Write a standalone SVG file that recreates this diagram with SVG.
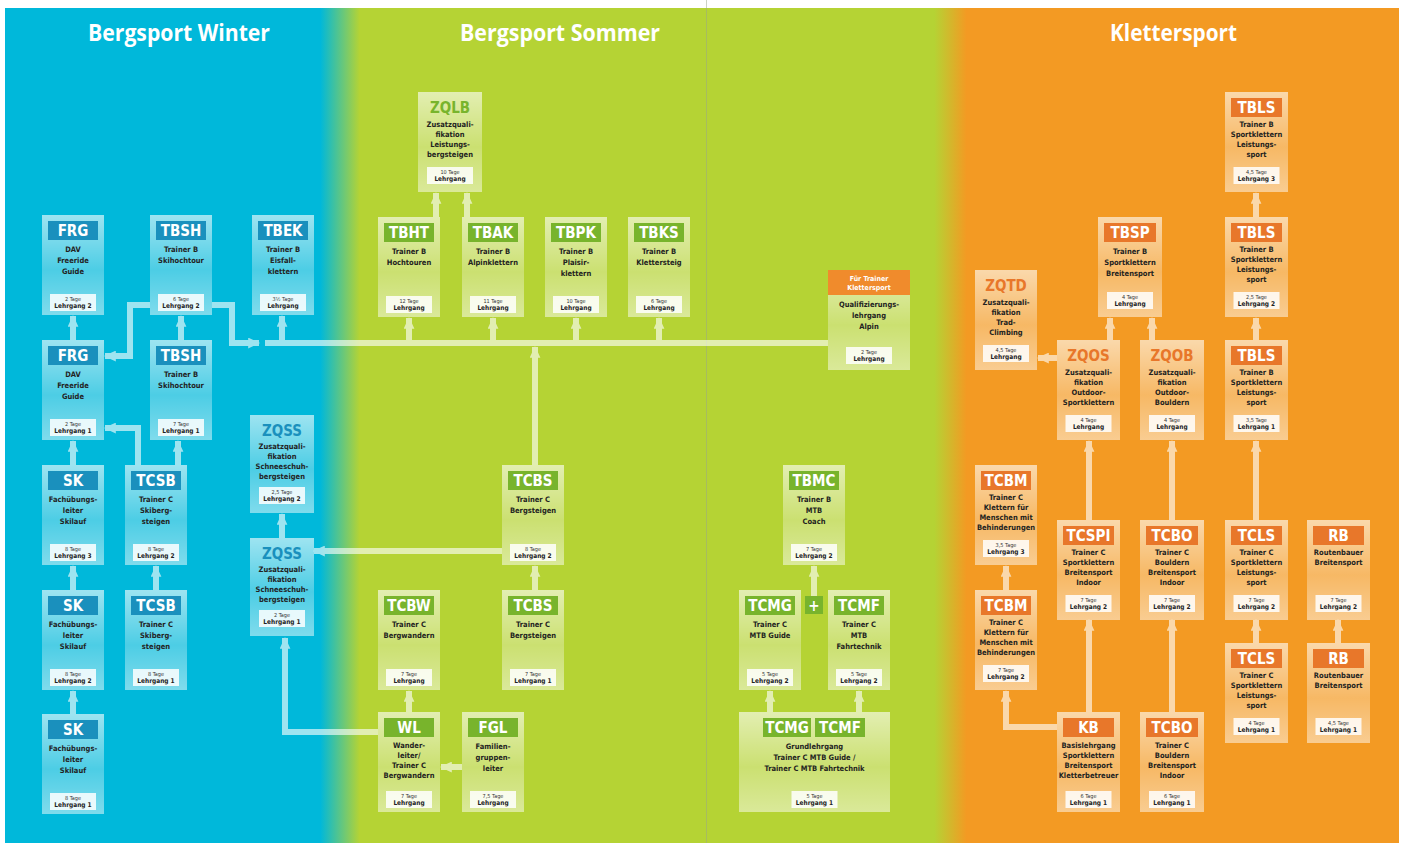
<svg xmlns="http://www.w3.org/2000/svg" width="1405" height="843" viewBox="0 0 1405 843">
<defs>
<linearGradient id="bg" x1="0" y1="0" x2="1405" y2="0" gradientUnits="userSpaceOnUse">
<stop offset="0" stop-color="#00b8da"/>
<stop offset="0.228" stop-color="#00b8da"/>
<stop offset="0.256" stop-color="#b5d334"/>
<stop offset="0.665" stop-color="#b5d334"/>
<stop offset="0.688" stop-color="#f39a23"/>
<stop offset="1" stop-color="#f39a23"/>
</linearGradient>
<linearGradient id="bx" x1="0" y1="0" x2="0" y2="1">
<stop offset="0" stop-color="#fff" stop-opacity="0.62"/>
<stop offset="0.55" stop-color="#fff" stop-opacity="0.3"/>
<stop offset="1" stop-color="#fff" stop-opacity="0.5"/>
</linearGradient>
<marker id="ah" viewBox="0 0 12 10" refX="10" refY="5" markerWidth="13" markerHeight="11" markerUnits="userSpaceOnUse" orient="auto">
<path d="M0,0 L11,5 L0,10 Z" fill="#fff"/>
</marker>
<style>
.box{fill:url(#bx)}
.hb{fill:#1a90bd}.hg{fill:#78b42c}.ho{fill:#e8772a}
.code{font-family:"Liberation Sans Narrow","DejaVu Sans Condensed","Liberation Sans",sans-serif;font-stretch:condensed;font-weight:bold;font-size:15px;fill:#fff;text-anchor:middle}
.zb{fill:#1a90bd}.zg{fill:#78b42c}.zo{fill:#e8772a}
.d{font-family:"Liberation Sans Narrow","DejaVu Sans Condensed","Liberation Sans",sans-serif;font-stretch:condensed;font-weight:bold;font-size:7.5px;fill:#23231f;text-anchor:middle}
.ft{fill:#fff;fill-opacity:0.85}
.t{font-family:"Liberation Sans Narrow","DejaVu Sans Condensed","Liberation Sans",sans-serif;font-stretch:condensed;font-size:5.5px;fill:#333;text-anchor:middle}
.l{font-family:"Liberation Sans Narrow","DejaVu Sans Condensed","Liberation Sans",sans-serif;font-stretch:condensed;font-weight:bold;font-size:6.5px;fill:#222;text-anchor:middle}
.w{font-family:"Liberation Sans Narrow","DejaVu Sans Condensed","Liberation Sans",sans-serif;font-stretch:condensed;font-weight:bold;font-size:7px;fill:#fff;text-anchor:middle}
.title{font-family:"Open Sans","Liberation Sans",sans-serif;font-weight:bold;font-size:24px;fill:#fff;text-anchor:start}
.con path{fill:none;stroke:#fff;stroke-width:6}
.con path.a{marker-end:url(#ah)}
</style>
</defs>

<rect width="1405" height="843" fill="#fff"/>
<rect x="5" y="8" width="1394" height="835" fill="url(#bg)"/>
<line x1="706.5" y1="0" x2="706.5" y2="843" stroke="#9aa58a" stroke-opacity="0.5" stroke-width="1"/>

<text class="title" x="88" y="41" textLength="182" lengthAdjust="spacingAndGlyphs">Bergsport Winter</text>
<text class="title" x="460" y="41" textLength="200" lengthAdjust="spacingAndGlyphs">Bergsport Sommer</text>
<text class="title" x="1110" y="41" textLength="127" lengthAdjust="spacingAndGlyphs">Klettersport</text>

<g class="con" opacity="0.62">
<path class="a" d="M73,340 V316"/>
<path class="a" d="M150,305 H130 V356 H105"/>
<path class="a" d="M212,305 H232 V343 H259"/>
<path d="M265,343 H828"/>
<path class="a" d="M282,343 V316"/>
<path class="a" d="M409,343 V318"/>
<path class="a" d="M493,343 V318"/>
<path class="a" d="M576,343 V318"/>
<path class="a" d="M659,343 V318"/>
<path class="a" d="M535,465 V347"/>
<path class="a" d="M181,340 V316"/>
<path class="a" d="M73,465 V441"/>
<path class="a" d="M138,465 V428 H105"/>
<path class="a" d="M178,465 V441"/>
<path class="a" d="M73,590 V566"/>
<path class="a" d="M73,714 V691"/>
<path class="a" d="M156,590 V566"/>
<path class="a" d="M282,538 V514"/>
<path class="a" d="M502,551 H314"/>
<path class="a" d="M378,732 H285 V638"/>
<path class="a" d="M409,712 V691"/>
<path class="a" d="M462,767 H441"/>
<path class="a" d="M535,590 V566"/>
<path class="a" d="M436,217 V193"/>
<path class="a" d="M467,217 V193"/>
<path class="a" d="M814,597 V566"/>
<path class="a" d="M770,712 V691"/>
<path class="a" d="M859,712 V691"/>
<path class="a" d="M1256,217 V193"/>
<path class="a" d="M1256,340 V318"/>
<path class="a" d="M1256,520 V441"/>
<path class="a" d="M1110,340 V318"/>
<path class="a" d="M1152,340 V318"/>
<path class="a" d="M1057,358 H1038"/>
<path class="a" d="M1089,520 V441"/>
<path class="a" d="M1172,520 V441"/>
<path class="a" d="M1089,712 V620"/>
<path class="a" d="M1172,712 V620"/>
<path class="a" d="M1057,727 H1006 V691"/>
<path class="a" d="M1006,590 V566"/>
<path class="a" d="M1256,643 V620"/>
<path class="a" d="M1338,643 V620"/>
</g>

<!-- Bergsport Winter -->
<g id="frg-2" transform="translate(42,215)">
<rect class="box" width="62" height="100"/><rect class="hb" x="6" y="6" width="50" height="19"/><text class="code" x="31" y="21">FRG</text>
<text class="d" x="31" y="37">DAV</text><text class="d" x="31" y="48">Freeride</text><text class="d" x="31" y="59">Guide</text>
<rect class="ft" x="8" y="79" width="46" height="17"/><text class="t" x="31" y="85.5">2 Tage</text><text class="l" x="31" y="93">Lehrgang 2</text>
</g>
<g id="frg-1" transform="translate(42,340)">
<rect class="box" width="62" height="100"/><rect class="hb" x="6" y="6" width="50" height="19"/><text class="code" x="31" y="21">FRG</text>
<text class="d" x="31" y="37">DAV</text><text class="d" x="31" y="48">Freeride</text><text class="d" x="31" y="59">Guide</text>
<rect class="ft" x="8" y="79" width="46" height="17"/><text class="t" x="31" y="85.5">2 Tage</text><text class="l" x="31" y="93">Lehrgang 1</text>
</g>
<g id="tbsh-2" transform="translate(150,215)">
<rect class="box" width="62" height="100"/><rect class="hb" x="6" y="6" width="50" height="19"/><text class="code" x="31" y="21">TBSH</text>
<text class="d" x="31" y="37">Trainer B</text><text class="d" x="31" y="48">Skihochtour</text>
<rect class="ft" x="8" y="79" width="46" height="17"/><text class="t" x="31" y="85.5">6 Tage</text><text class="l" x="31" y="93">Lehrgang 2</text>
</g>
<g id="tbsh-1" transform="translate(150,340)">
<rect class="box" width="62" height="100"/><rect class="hb" x="6" y="6" width="50" height="19"/><text class="code" x="31" y="21">TBSH</text>
<text class="d" x="31" y="37">Trainer B</text><text class="d" x="31" y="48">Skihochtour</text>
<rect class="ft" x="8" y="79" width="46" height="17"/><text class="t" x="31" y="85.5">7 Tage</text><text class="l" x="31" y="93">Lehrgang 1</text>
</g>
<g id="tbek" transform="translate(252,215)">
<rect class="box" width="62" height="100"/><rect class="hb" x="6" y="6" width="50" height="19"/><text class="code" x="31" y="21">TBEK</text>
<text class="d" x="31" y="37">Trainer B</text><text class="d" x="31" y="48">Eisfall-</text><text class="d" x="31" y="59">klettern</text>
<rect class="ft" x="8" y="79" width="46" height="17"/><text class="t" x="31" y="85.5">3½ Tage</text><text class="l" x="31" y="93">Lehrgang</text>
</g>
<g id="sk-3" transform="translate(42,465)">
<rect class="box" width="62" height="100"/><rect class="hb" x="6" y="6" width="50" height="19"/><text class="code" x="31" y="21">SK</text>
<text class="d" x="31" y="37">Fachübungs-</text><text class="d" x="31" y="48">leiter</text><text class="d" x="31" y="59">Skilauf</text>
<rect class="ft" x="8" y="79" width="46" height="17"/><text class="t" x="31" y="85.5">8 Tage</text><text class="l" x="31" y="93">Lehrgang 3</text>
</g>
<g id="sk-2" transform="translate(42,590)">
<rect class="box" width="62" height="100"/><rect class="hb" x="6" y="6" width="50" height="19"/><text class="code" x="31" y="21">SK</text>
<text class="d" x="31" y="37">Fachübungs-</text><text class="d" x="31" y="48">leiter</text><text class="d" x="31" y="59">Skilauf</text>
<rect class="ft" x="8" y="79" width="46" height="17"/><text class="t" x="31" y="85.5">8 Tage</text><text class="l" x="31" y="93">Lehrgang 2</text>
</g>
<g id="sk-1" transform="translate(42,714)">
<rect class="box" width="62" height="100"/><rect class="hb" x="6" y="6" width="50" height="19"/><text class="code" x="31" y="21">SK</text>
<text class="d" x="31" y="37">Fachübungs-</text><text class="d" x="31" y="48">leiter</text><text class="d" x="31" y="59">Skilauf</text>
<rect class="ft" x="8" y="79" width="46" height="17"/><text class="t" x="31" y="85.5">8 Tage</text><text class="l" x="31" y="93">Lehrgang 1</text>
</g>
<g id="tcsb-2" transform="translate(125,465)">
<rect class="box" width="62" height="100"/><rect class="hb" x="6" y="6" width="50" height="19"/><text class="code" x="31" y="21">TCSB</text>
<text class="d" x="31" y="37">Trainer C</text><text class="d" x="31" y="48">Skiberg-</text><text class="d" x="31" y="59">steigen</text>
<rect class="ft" x="8" y="79" width="46" height="17"/><text class="t" x="31" y="85.5">8 Tage</text><text class="l" x="31" y="93">Lehrgang 2</text>
</g>
<g id="tcsb-1" transform="translate(125,590)">
<rect class="box" width="62" height="100"/><rect class="hb" x="6" y="6" width="50" height="19"/><text class="code" x="31" y="21">TCSB</text>
<text class="d" x="31" y="37">Trainer C</text><text class="d" x="31" y="48">Skiberg-</text><text class="d" x="31" y="59">steigen</text>
<rect class="ft" x="8" y="79" width="46" height="17"/><text class="t" x="31" y="85.5">8 Tage</text><text class="l" x="31" y="93">Lehrgang 1</text>
</g>
<g id="zqss-2" transform="translate(250,415)">
<rect class="box" width="64" height="98"/><text class="code zb" x="32" y="21">ZQSS</text>
<text class="d" x="32" y="34">Zusatzquali-</text><text class="d" x="32" y="44">fikation</text><text class="d" x="32" y="54">Schneeschuh-</text><text class="d" x="32" y="64">bergsteigen</text>
<rect class="ft" x="9" y="72" width="46" height="17"/><text class="t" x="32" y="78.5">2,5 Tage</text><text class="l" x="32" y="86">Lehrgang 2</text>
</g>
<g id="zqss-1" transform="translate(250,538)">
<rect class="box" width="64" height="98"/><text class="code zb" x="32" y="21">ZQSS</text>
<text class="d" x="32" y="34">Zusatzquali-</text><text class="d" x="32" y="44">fikation</text><text class="d" x="32" y="54">Schneeschuh-</text><text class="d" x="32" y="64">bergsteigen</text>
<rect class="ft" x="9" y="72" width="46" height="17"/><text class="t" x="32" y="78.5">2 Tage</text><text class="l" x="32" y="86">Lehrgang 1</text>
</g>

<!-- Bergsport Sommer -->
<g id="zqlb" transform="translate(418,92)">
<rect class="box" width="64" height="100"/><text class="code zg" x="32" y="21">ZQLB</text>
<text class="d" x="32" y="35">Zusatzquali-</text><text class="d" x="32" y="45">fikation</text><text class="d" x="32" y="55">Leistungs-</text><text class="d" x="32" y="65">bergsteigen</text>
<rect class="ft" x="9" y="75" width="46" height="17"/><text class="t" x="32" y="81.5">10 Tage</text><text class="l" x="32" y="89">Lehrgang</text>
</g>
<g id="tbht" transform="translate(378,217)">
<rect class="box" width="62" height="100"/><rect class="hg" x="6" y="6" width="50" height="19"/><text class="code" x="31" y="21">TBHT</text>
<text class="d" x="31" y="37">Trainer B</text><text class="d" x="31" y="48">Hochtouren</text>
<rect class="ft" x="8" y="79" width="46" height="17"/><text class="t" x="31" y="85.5">12 Tage</text><text class="l" x="31" y="93">Lehrgang</text>
</g>
<g id="tbak" transform="translate(462,217)">
<rect class="box" width="62" height="100"/><rect class="hg" x="6" y="6" width="50" height="19"/><text class="code" x="31" y="21">TBAK</text>
<text class="d" x="31" y="37">Trainer B</text><text class="d" x="31" y="48">Alpinklettern</text>
<rect class="ft" x="8" y="79" width="46" height="17"/><text class="t" x="31" y="85.5">11 Tage</text><text class="l" x="31" y="93">Lehrgang</text>
</g>
<g id="tbpk" transform="translate(545,217)">
<rect class="box" width="62" height="100"/><rect class="hg" x="6" y="6" width="50" height="19"/><text class="code" x="31" y="21">TBPK</text>
<text class="d" x="31" y="37">Trainer B</text><text class="d" x="31" y="48">Plaisir-</text><text class="d" x="31" y="59">klettern</text>
<rect class="ft" x="8" y="79" width="46" height="17"/><text class="t" x="31" y="85.5">10 Tage</text><text class="l" x="31" y="93">Lehrgang</text>
</g>
<g id="tbks" transform="translate(628,217)">
<rect class="box" width="62" height="100"/><rect class="hg" x="6" y="6" width="50" height="19"/><text class="code" x="31" y="21">TBKS</text>
<text class="d" x="31" y="37">Trainer B</text><text class="d" x="31" y="48">Klettersteig</text>
<rect class="ft" x="8" y="79" width="46" height="17"/><text class="t" x="31" y="85.5">6 Tage</text><text class="l" x="31" y="93">Lehrgang</text>
</g>
<g id="tcbs-2" transform="translate(502,465)">
<rect class="box" width="62" height="100"/><rect class="hg" x="6" y="6" width="50" height="19"/><text class="code" x="31" y="21">TCBS</text>
<text class="d" x="31" y="37">Trainer C</text><text class="d" x="31" y="48">Bergsteigen</text>
<rect class="ft" x="8" y="79" width="46" height="17"/><text class="t" x="31" y="85.5">8 Tage</text><text class="l" x="31" y="93">Lehrgang 2</text>
</g>
<g id="tcbs-1" transform="translate(502,590)">
<rect class="box" width="62" height="100"/><rect class="hg" x="6" y="6" width="50" height="19"/><text class="code" x="31" y="21">TCBS</text>
<text class="d" x="31" y="37">Trainer C</text><text class="d" x="31" y="48">Bergsteigen</text>
<rect class="ft" x="8" y="79" width="46" height="17"/><text class="t" x="31" y="85.5">7 Tage</text><text class="l" x="31" y="93">Lehrgang 1</text>
</g>
<g id="tcbw" transform="translate(378,590)">
<rect class="box" width="62" height="100"/><rect class="hg" x="6" y="6" width="50" height="19"/><text class="code" x="31" y="21">TCBW</text>
<text class="d" x="31" y="37">Trainer C</text><text class="d" x="31" y="48">Bergwandern</text>
<rect class="ft" x="8" y="79" width="46" height="17"/><text class="t" x="31" y="85.5">7 Tage</text><text class="l" x="31" y="93">Lehrgang</text>
</g>
<g id="wl" transform="translate(378,712)">
<rect class="box" width="62" height="100"/><rect class="hg" x="6" y="6" width="50" height="19"/><text class="code" x="31" y="21">WL</text>
<text class="d" x="31" y="36">Wander-</text><text class="d" x="31" y="46">leiter/</text><text class="d" x="31" y="56">Trainer C</text><text class="d" x="31" y="66">Bergwandern</text>
<rect class="ft" x="8" y="79" width="46" height="17"/><text class="t" x="31" y="85.5">7 Tage</text><text class="l" x="31" y="93">Lehrgang</text>
</g>
<g id="fgl" transform="translate(462,712)">
<rect class="box" width="62" height="100"/><rect class="hg" x="6" y="6" width="50" height="19"/><text class="code" x="31" y="21">FGL</text>
<text class="d" x="31" y="37">Familien-</text><text class="d" x="31" y="48">gruppen-</text><text class="d" x="31" y="59">leiter</text>
<rect class="ft" x="8" y="79" width="46" height="17"/><text class="t" x="31" y="85.5">7,5 Tage</text><text class="l" x="31" y="93">Lehrgang</text>
</g>

<!-- Mitte -->
<g id="qla" transform="translate(828,270)">
<rect class="box" width="82" height="100"/><rect fill="#f08b2c" width="82" height="25"/>
<text class="w" x="41" y="10.5">Für Trainer</text><text class="w" x="41" y="20">Klettersport</text>
<text class="d" x="41" y="37">Qualifizierungs-</text><text class="d" x="41" y="48">lehrgang</text><text class="d" x="41" y="59">Alpin</text>
<rect class="ft" x="18" y="77" width="46" height="17"/><text class="t" x="41" y="83.5">2 Tage</text><text class="l" x="41" y="91">Lehrgang</text>
</g>
<g id="tbmc" transform="translate(783,465)">
<rect class="box" width="62" height="100"/><rect class="hg" x="6" y="6" width="50" height="19"/><text class="code" x="31" y="21">TBMC</text>
<text class="d" x="31" y="37">Trainer B</text><text class="d" x="31" y="48">MTB</text><text class="d" x="31" y="59">Coach</text>
<rect class="ft" x="8" y="79" width="46" height="17"/><text class="t" x="31" y="85.5">7 Tage</text><text class="l" x="31" y="93">Lehrgang 2</text>
</g>
<g id="tcmg-2" transform="translate(739,590)">
<rect class="box" width="62" height="100"/><rect class="hg" x="6" y="6" width="50" height="19"/><text class="code" x="31" y="21">TCMG</text>
<text class="d" x="31" y="37">Trainer C</text><text class="d" x="31" y="48">MTB Guide</text>
<rect class="ft" x="8" y="79" width="46" height="17"/><text class="t" x="31" y="85.5">5 Tage</text><text class="l" x="31" y="93">Lehrgang 2</text>
</g>
<g id="plus" transform="translate(805,596)">
<rect class="hg" width="18" height="18"/><text class="code" x="9" y="14.5">+</text>
</g>
<g id="tcmf-2" transform="translate(828,590)">
<rect class="box" width="62" height="100"/><rect class="hg" x="6" y="6" width="50" height="19"/><text class="code" x="31" y="21">TCMF</text>
<text class="d" x="31" y="37">Trainer C</text><text class="d" x="31" y="48">MTB</text><text class="d" x="31" y="59">Fahrtechnik</text>
<rect class="ft" x="8" y="79" width="46" height="17"/><text class="t" x="31" y="85.5">5 Tage</text><text class="l" x="31" y="93">Lehrgang 2</text>
</g>
<g id="tcmg-tcmf-1" transform="translate(739,712)">
<rect class="box" width="151" height="100"/>
<rect class="hg" x="24" y="6" width="48" height="19"/><text class="code" x="48" y="21">TCMG</text>
<rect class="hg" x="76" y="6" width="50" height="19"/><text class="code" x="101" y="21">TCMF</text>
<text class="d" x="75.5" y="37">Grundlehrgang</text><text class="d" x="75.5" y="48">Trainer C MTB Guide /</text><text class="d" x="75.5" y="59">Trainer C MTB Fahrtechnik</text>
<rect class="ft" x="52.5" y="79" width="46" height="17"/><text class="t" x="75.5" y="85.5">5 Tage</text><text class="l" x="75.5" y="93">Lehrgang 1</text>
</g>

<!-- Klettersport -->
<g id="tbls-3" transform="translate(1225,92)">
<rect class="box" width="63" height="100"/><rect class="ho" x="6" y="6" width="51" height="19"/><text class="code" x="31.5" y="21">TBLS</text>
<text class="d" x="31.5" y="35">Trainer B</text><text class="d" x="31.5" y="45">Sportklettern</text><text class="d" x="31.5" y="55">Leistungs-</text><text class="d" x="31.5" y="65">sport</text>
<rect class="ft" x="8.5" y="75" width="46" height="17"/><text class="t" x="31.5" y="81.5">4,5 Tage</text><text class="l" x="31.5" y="89">Lehrgang 3</text>
</g>
<g id="tbls-2" transform="translate(1225,217)">
<rect class="box" width="63" height="100"/><rect class="ho" x="6" y="6" width="51" height="19"/><text class="code" x="31.5" y="21">TBLS</text>
<text class="d" x="31.5" y="35">Trainer B</text><text class="d" x="31.5" y="45">Sportklettern</text><text class="d" x="31.5" y="55">Leistungs-</text><text class="d" x="31.5" y="65">sport</text>
<rect class="ft" x="8.5" y="75" width="46" height="17"/><text class="t" x="31.5" y="81.5">2,5 Tage</text><text class="l" x="31.5" y="89">Lehrgang 2</text>
</g>
<g id="tbls-1" transform="translate(1225,340)">
<rect class="box" width="63" height="100"/><rect class="ho" x="6" y="6" width="51" height="19"/><text class="code" x="31.5" y="21">TBLS</text>
<text class="d" x="31.5" y="35">Trainer B</text><text class="d" x="31.5" y="45">Sportklettern</text><text class="d" x="31.5" y="55">Leistungs-</text><text class="d" x="31.5" y="65">sport</text>
<rect class="ft" x="8.5" y="75" width="46" height="17"/><text class="t" x="31.5" y="81.5">3,5 Tage</text><text class="l" x="31.5" y="89">Lehrgang 1</text>
</g>
<g id="tbsp" transform="translate(1098,217)">
<rect class="box" width="64" height="100"/><rect class="ho" x="6" y="6" width="52" height="19"/><text class="code" x="32" y="21">TBSP</text>
<text class="d" x="32" y="37">Trainer B</text><text class="d" x="32" y="48">Sportklettern</text><text class="d" x="32" y="59">Breitensport</text>
<rect class="ft" x="9" y="75" width="46" height="17"/><text class="t" x="32" y="81.5">4 Tage</text><text class="l" x="32" y="89">Lehrgang</text>
</g>
<g id="zqtd" transform="translate(975,270)">
<rect class="box" width="62" height="100"/><text class="code zo" x="31" y="21">ZQTD</text>
<text class="d" x="31" y="35">Zusatzquali-</text><text class="d" x="31" y="45">fikation</text><text class="d" x="31" y="55">Trad-</text><text class="d" x="31" y="65">Climbing</text>
<rect class="ft" x="8" y="75" width="46" height="17"/><text class="t" x="31" y="81.5">4,5 Tage</text><text class="l" x="31" y="89">Lehrgang</text>
</g>
<g id="zqos" transform="translate(1057,340)">
<rect class="box" width="63" height="100"/><text class="code zo" x="31.5" y="21">ZQOS</text>
<text class="d" x="31.5" y="35">Zusatzquali-</text><text class="d" x="31.5" y="45">fikation</text><text class="d" x="31.5" y="55">Outdoor-</text><text class="d" x="31.5" y="65">Sportklettern</text>
<rect class="ft" x="8.5" y="75" width="46" height="17"/><text class="t" x="31.5" y="81.5">4 Tage</text><text class="l" x="31.5" y="89">Lehrgang</text>
</g>
<g id="zqob" transform="translate(1140,340)">
<rect class="box" width="64" height="100"/><text class="code zo" x="32" y="21">ZQOB</text>
<text class="d" x="32" y="35">Zusatzquali-</text><text class="d" x="32" y="45">fikation</text><text class="d" x="32" y="55">Outdoor-</text><text class="d" x="32" y="65">Bouldern</text>
<rect class="ft" x="9" y="75" width="46" height="17"/><text class="t" x="32" y="81.5">4 Tage</text><text class="l" x="32" y="89">Lehrgang</text>
</g>
<g id="tcbm-3" transform="translate(975,465)">
<rect class="box" width="62" height="100"/><rect class="ho" x="6" y="6" width="50" height="19"/><text class="code" x="31" y="21">TCBM</text>
<text class="d" x="31" y="35">Trainer C</text><text class="d" x="31" y="45">Klettern für</text><text class="d" x="31" y="55">Menschen mit</text><text class="d" x="31" y="65">Behinderungen</text>
<rect class="ft" x="8" y="75" width="46" height="17"/><text class="t" x="31" y="81.5">3,5 Tage</text><text class="l" x="31" y="89">Lehrgang 3</text>
</g>
<g id="tcbm-2" transform="translate(975,590)">
<rect class="box" width="62" height="100"/><rect class="ho" x="6" y="6" width="50" height="19"/><text class="code" x="31" y="21">TCBM</text>
<text class="d" x="31" y="35">Trainer C</text><text class="d" x="31" y="45">Klettern für</text><text class="d" x="31" y="55">Menschen mit</text><text class="d" x="31" y="65">Behinderungen</text>
<rect class="ft" x="8" y="75" width="46" height="17"/><text class="t" x="31" y="81.5">7 Tage</text><text class="l" x="31" y="89">Lehrgang 2</text>
</g>
<g id="tcspi-2" transform="translate(1057,520)">
<rect class="box" width="63" height="100"/><rect class="ho" x="6" y="6" width="51" height="19"/><text class="code" x="31.5" y="21">TCSPI</text>
<text class="d" x="31.5" y="35">Trainer C</text><text class="d" x="31.5" y="45">Sportklettern</text><text class="d" x="31.5" y="55">Breitensport</text><text class="d" x="31.5" y="65">Indoor</text>
<rect class="ft" x="8.5" y="75" width="46" height="17"/><text class="t" x="31.5" y="81.5">7 Tage</text><text class="l" x="31.5" y="89">Lehrgang 2</text>
</g>
<g id="tcbo-2" transform="translate(1140,520)">
<rect class="box" width="64" height="100"/><rect class="ho" x="6" y="6" width="52" height="19"/><text class="code" x="32" y="21">TCBO</text>
<text class="d" x="32" y="35">Trainer C</text><text class="d" x="32" y="45">Bouldern</text><text class="d" x="32" y="55">Breitensport</text><text class="d" x="32" y="65">Indoor</text>
<rect class="ft" x="9" y="75" width="46" height="17"/><text class="t" x="32" y="81.5">7 Tage</text><text class="l" x="32" y="89">Lehrgang 2</text>
</g>
<g id="tcls-2" transform="translate(1225,520)">
<rect class="box" width="63" height="100"/><rect class="ho" x="6" y="6" width="51" height="19"/><text class="code" x="31.5" y="21">TCLS</text>
<text class="d" x="31.5" y="35">Trainer C</text><text class="d" x="31.5" y="45">Sportklettern</text><text class="d" x="31.5" y="55">Leistungs-</text><text class="d" x="31.5" y="65">sport</text>
<rect class="ft" x="8.5" y="75" width="46" height="17"/><text class="t" x="31.5" y="81.5">7 Tage</text><text class="l" x="31.5" y="89">Lehrgang 2</text>
</g>
<g id="rb-2" transform="translate(1307,520)">
<rect class="box" width="63" height="100"/><rect class="ho" x="6" y="6" width="51" height="19"/><text class="code" x="31.5" y="21">RB</text>
<text class="d" x="31.5" y="35">Routenbauer</text><text class="d" x="31.5" y="45">Breitensport</text>
<rect class="ft" x="8.5" y="75" width="46" height="17"/><text class="t" x="31.5" y="81.5">7 Tage</text><text class="l" x="31.5" y="89">Lehrgang 2</text>
</g>
<g id="tcls-1" transform="translate(1225,643)">
<rect class="box" width="63" height="100"/><rect class="ho" x="6" y="6" width="51" height="19"/><text class="code" x="31.5" y="21">TCLS</text>
<text class="d" x="31.5" y="35">Trainer C</text><text class="d" x="31.5" y="45">Sportklettern</text><text class="d" x="31.5" y="55">Leistungs-</text><text class="d" x="31.5" y="65">sport</text>
<rect class="ft" x="8.5" y="75" width="46" height="17"/><text class="t" x="31.5" y="81.5">4 Tage</text><text class="l" x="31.5" y="89">Lehrgang 1</text>
</g>
<g id="rb-1" transform="translate(1307,643)">
<rect class="box" width="63" height="100"/><rect class="ho" x="6" y="6" width="51" height="19"/><text class="code" x="31.5" y="21">RB</text>
<text class="d" x="31.5" y="35">Routenbauer</text><text class="d" x="31.5" y="45">Breitensport</text>
<rect class="ft" x="8.5" y="75" width="46" height="17"/><text class="t" x="31.5" y="81.5">4,5 Tage</text><text class="l" x="31.5" y="89">Lehrgang 1</text>
</g>
<g id="kb" transform="translate(1057,712)">
<rect class="box" width="63" height="100"/><rect class="ho" x="6" y="6" width="51" height="19"/><text class="code" x="31.5" y="21">KB</text>
<text class="d" x="31.5" y="36">Basislehrgang</text><text class="d" x="31.5" y="46">Sportklettern</text><text class="d" x="31.5" y="56">Breitensport</text><text class="d" x="31.5" y="66">Kletterbetreuer</text>
<rect class="ft" x="8.5" y="79" width="46" height="17"/><text class="t" x="31.5" y="85.5">6 Tage</text><text class="l" x="31.5" y="93">Lehrgang 1</text>
</g>
<g id="tcbo-1" transform="translate(1140,712)">
<rect class="box" width="64" height="100"/><rect class="ho" x="6" y="6" width="52" height="19"/><text class="code" x="32" y="21">TCBO</text>
<text class="d" x="32" y="36">Trainer C</text><text class="d" x="32" y="46">Bouldern</text><text class="d" x="32" y="56">Breitensport</text><text class="d" x="32" y="66">Indoor</text>
<rect class="ft" x="9" y="79" width="46" height="17"/><text class="t" x="32" y="85.5">6 Tage</text><text class="l" x="32" y="93">Lehrgang 1</text>
</g>
</svg>
